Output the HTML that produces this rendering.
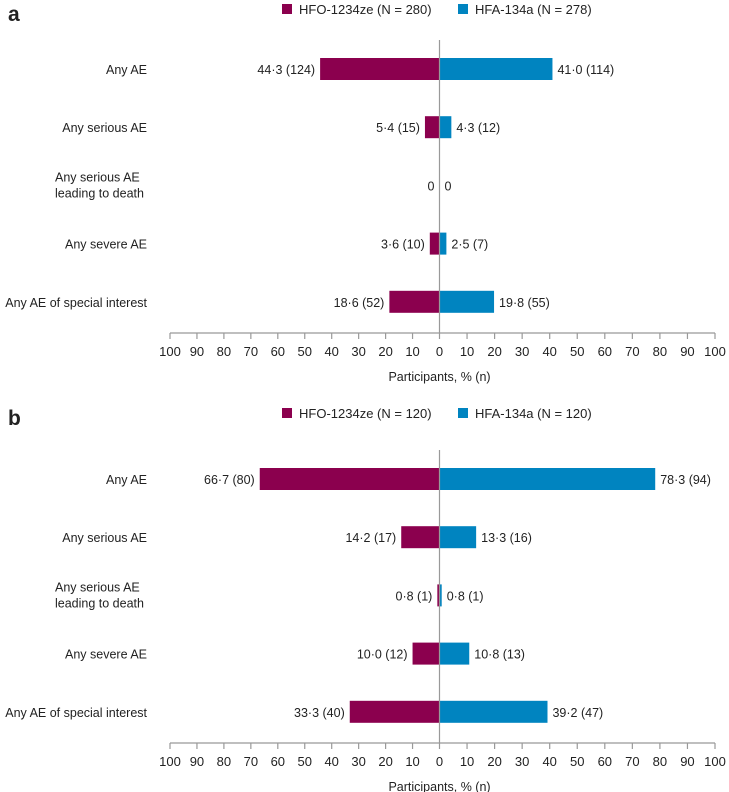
<!DOCTYPE html>
<html><head><meta charset="utf-8"><style>
body{margin:0;background:#fff}
svg{display:block;font-family:"Liberation Sans",Arial,sans-serif}
</style></head><body>
<svg id="chart" width="729" height="792" viewBox="0 0 729 792"></svg>
<script>
const categoriesFull = ["Any AE","Any serious AE","Any serious AE|leading to death","Any severe AE","Any AE of special interest"];
const aLeftValues = [44.3, 5.4, 0, 3.6, 18.6];
const aLeftN = [124, 15, 0, 10, 52];
const aRightValues = [41.0, 4.3, 0, 2.5, 19.8];
const aRightN = [114, 12, 0, 7, 55];
const bLeftValues = [66.7, 14.2, 0.8, 10.0, 33.3];
const bLeftN = [80, 17, 1, 12, 40];
const bRightValues = [78.3, 13.3, 0.8, 10.8, 39.2];
const bRightN = [94, 16, 1, 13, 47];
const ticks = [100,90,80,70,60,50,40,30,20,10,0,10,20,30,40,50,60,70,80,90,100];
const legendA = ["HFO-1234ze (N = 280)","HFA-134a (N = 278)"];
const legendB = ["HFO-1234ze (N = 120)","HFA-134a (N = 120)"];

const NS="http://www.w3.org/2000/svg";
const svg=document.getElementById('chart');
const PURPLE="#8b004e", BLUE="#0084c0";
const X0=439.5, SL=2.695, SR=2.755;
const xL=v=>X0-v*SL, xR=v=>X0+v*SR;
function el(tag,attrs,parent){const e=document.createElementNS(NS,tag);for(const k in attrs)e.setAttribute(k,attrs[k]);(parent||svg).appendChild(e);return e;}
function txt(s,x,y,anchor,size,parent,extra){const t=el('text',Object.assign({x:x,y:y,'text-anchor':anchor,'font-size':size,fill:'#222'},extra||{}),parent);t.textContent=s;return t;}
function fmt(v,n){if(v===0)return "0";return v.toFixed(1).replace('.','·')+" ("+n+")";}

function panel(letter,top,legTop,legend,lv,ln,rv,rn){
  const g=el('g',{});
  
  
  const pl=txt(letter,8,legTop+17,'start',21,g,{'font-weight':'bold'});
  
  
  const lg=el('g',{},g);
  
  
  const cols=[PURPLE,BLUE], lx=[282,458];
  for(let i=0;i<2;i++){
    const s=el('rect',{x:lx[i],y:legTop,width:10,height:10,fill:cols[i]},lg);
    
    
    const t=txt(legend[i],lx[i]+17,legTop+10,'start',13,lg);
    
    
  }
  const rowY0=top+69, rowStep=58.2, axisY=top+333;
  for(let i=0;i<categoriesFull.length;i++){
    const cy=rowY0+i*rowStep;
    const parts=categoriesFull[i].split('|');
    if(parts.length===1){
      const t=txt(parts[0],147,cy+5,'end',12.5,g);
      
      
    } else {
      const t=el('text',{x:55,y:cy-4,'font-size':12.5,fill:'#222'},g);
      
      
      parts.forEach((p,k)=>{const ts=el('tspan',{x:55,dy:k?16:0},t);ts.textContent=p;});
    }
    const h=22;
    if(lv[i]>0){
      const r=el('rect',{x:xL(lv[i]),y:cy-h/2,width:X0-xL(lv[i]),height:h,fill:PURPLE},g);
      
      
    }
    if(rv[i]>0){
      const r=el('rect',{x:X0,y:cy-h/2,width:xR(rv[i])-X0,height:h,fill:BLUE},g);
      
      
    }
    const tl=txt(fmt(lv[i],ln[i]),xL(lv[i])-5,cy+5,'end',12.5,g);
    
    
    const tr=txt(fmt(rv[i],rn[i]),xR(rv[i])+5,cy+5,'start',12.5,g);
    
    
  }
  const cl=el('line',{x1:X0,x2:X0,y1:top+40,y2:axisY,stroke:'#999','stroke-width':1.2},g);
  
  
  const ax=el('g',{},g);
  
  
  el('line',{x1:xL(100),x2:xR(100),y1:axisY,y2:axisY,stroke:'#999','stroke-width':1.2},ax);
  ticks.forEach((t,k)=>{
    const x=k<10?xL(t):xR(t);
    el('line',{x1:x,x2:x,y1:axisY,y2:axisY+6,stroke:'#999','stroke-width':1.2},ax);
    const tt=txt(String(t),x,axisY+23,'middle',13,ax);
    
    
  });
  const at=txt('Participants, % (n)',X0,axisY+48,'middle',12.5,g);
  
  
}
panel('a',0,4,legendA,aLeftValues,aLeftN,aRightValues,aRightN);
panel('b',410,408,legendB,bLeftValues,bLeftN,bRightValues,bRightN);
</script>
</body></html>
